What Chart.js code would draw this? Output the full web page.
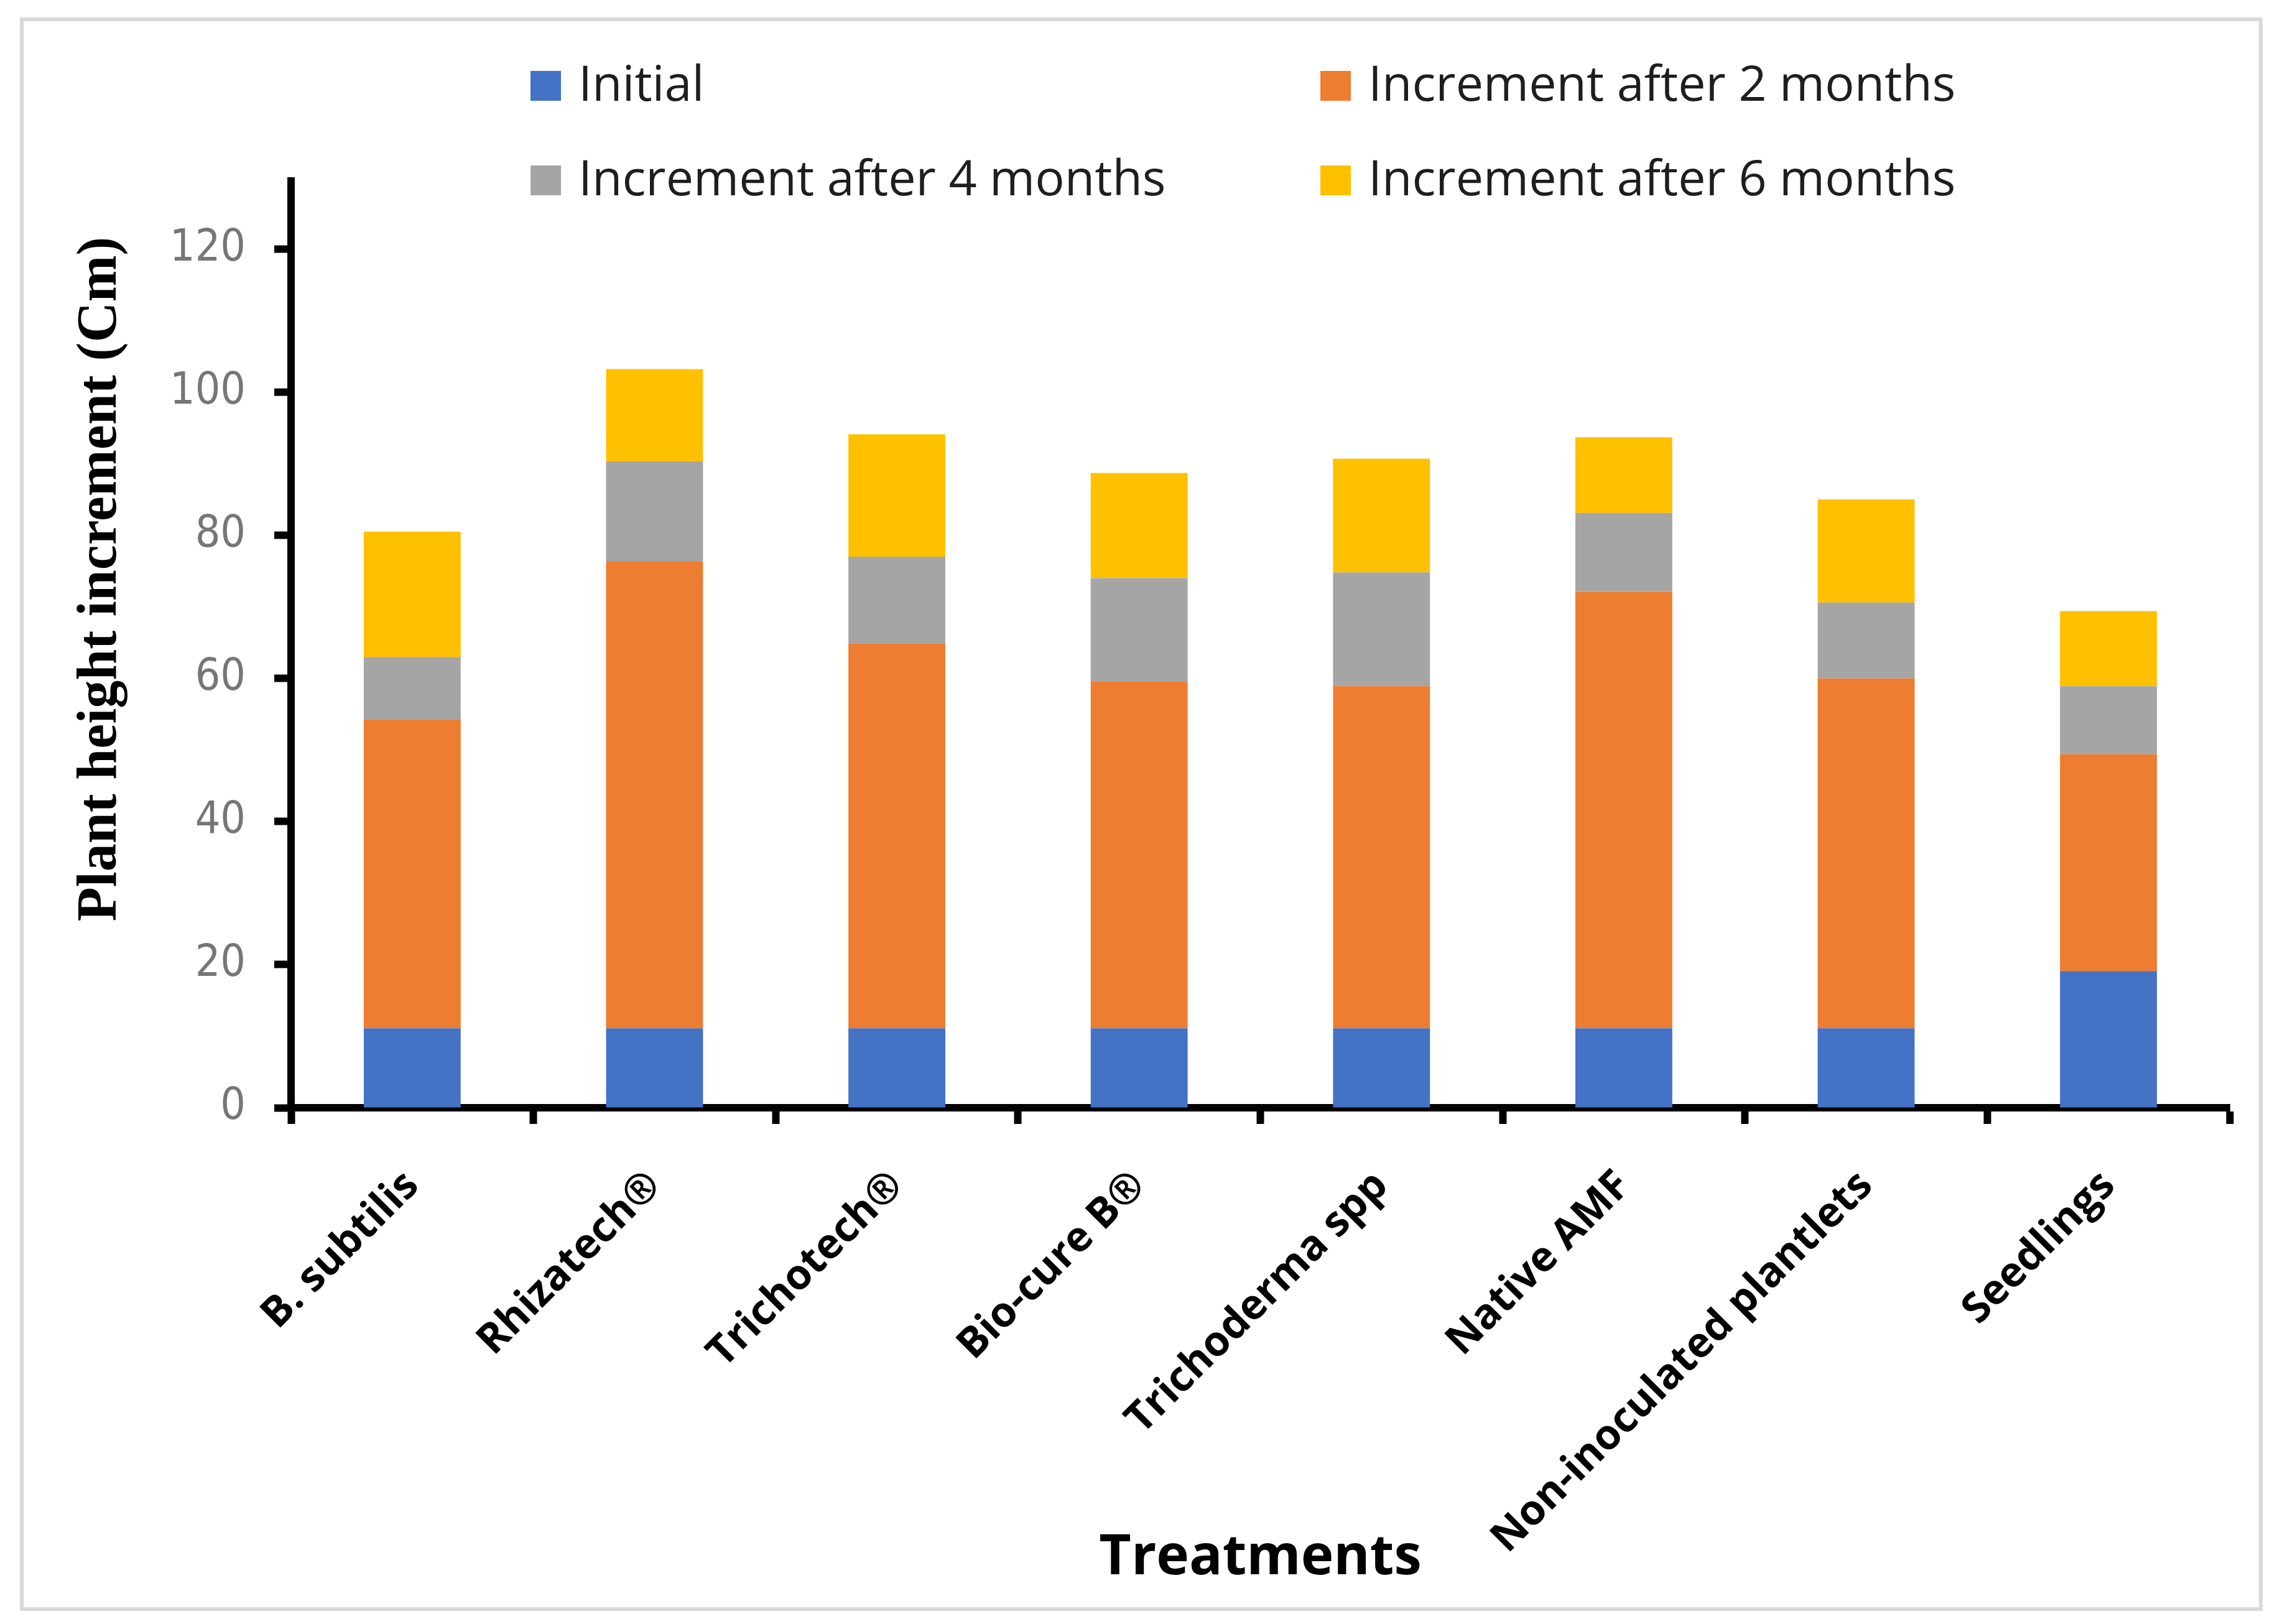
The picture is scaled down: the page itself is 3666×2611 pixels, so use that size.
<!DOCTYPE html>
<html><head><meta charset="utf-8">
<script src="https://cdn.jsdelivr.net/npm/chart.js@4.4.1/dist/chart.umd.min.js"></script>
<style>html,body{margin:0;padding:0;background:#fff;} #wrap{width:3666px;height:2611px;position:relative;}</style>
</head><body><div id="wrap"><canvas id="c" width="3666" height="2611"></canvas></div>
<script>
const categories = ['B. subtilis','Rhizatech®','Trichotech®','Bio-cure B®','Trichoderma spp','Native AMF','Non-inoculated plantlets','Seedlings'];
const initialVals = [11.1, 11.1, 11.1, 11.1, 11.1, 11.1, 11.1, 19.1];
const inc2Vals    = [43.2, 65.2, 53.8, 48.5, 47.8, 61.0, 48.9, 30.3];
const inc4Vals    = [8.7, 14.0, 12.1, 14.4, 15.9, 11.0, 10.6, 9.5];
const inc6Vals    = [17.5, 12.9, 17.1, 14.7, 15.9, 10.6, 14.4, 10.5];
const seriesNames = ['Initial','Increment after 2 months','Increment after 4 months','Increment after 6 months'];
const seriesColors = ['#4472C4','#ED7D31','#A5A5A5','#FFC000'];
const yTickValues = [0, 20, 40, 60, 80, 100, 120];
const yTitle = 'Plant height increment (Cm)';
const xTitle = 'Treatments';

const seriesData = [initialVals, inc2Vals, inc4Vals, inc6Vals];

const decor = {
  id: 'decor',
  beforeDraw(chart) {
    const ctx = chart.ctx;
    ctx.save();
    ctx.fillStyle = '#ffffff';
    ctx.fillRect(0, 0, chart.width, chart.height);
    ctx.strokeStyle = '#d9d9d9';
    ctx.lineWidth = 6;
    ctx.strokeRect(35, 31, 3600, 2556);
    ctx.restore();
  },
  afterDraw(chart) {
    const ctx = chart.ctx;
    ctx.save();
    // y axis title
    ctx.translate(186, 931);
    ctx.rotate(-Math.PI / 2);
    ctx.font = 'bold 90px "Liberation Serif", "Times New Roman", serif';
    ctx.fillStyle = '#000';
    ctx.textAlign = 'center';
    ctx.textBaseline = 'alphabetic';
    ctx.fillText(yTitle, 0, 0);
    ctx.restore();

    // legend (2 x 2 grid)
    ctx.save();
    const colX = [853, 2123];
    const rowBase = [162, 314];
    ctx.font = '79px "Open Sans", "Noto Sans", sans-serif';
    ctx.textAlign = 'left';
    ctx.textBaseline = 'alphabetic';
    chart.data.datasets.forEach((ds, i) => {
      const cx = colX[i % 2];
      const by = rowBase[Math.floor(i / 2)];
      ctx.fillStyle = ds.backgroundColor;
      ctx.fillRect(cx, by - 48, 49, 48);
      ctx.fillStyle = '#1e1e1e';
      ctx.fillText(ds.label, cx + 77, by);
    });
    ctx.restore();
  }
};

const datasets = seriesNames.map((name, i) => ({
  label: name,
  data: seriesData[i],
  backgroundColor: seriesColors[i],
  borderWidth: 0,
  categoryPercentage: 1.0,
  barPercentage: 0.4
}));

new Chart(document.getElementById('c').getContext('2d'), {
  type: 'bar',
  data: { labels: categories, datasets },
  options: {
    responsive: false,
    devicePixelRatio: 1,
    animation: false,
    layout: { padding: { left: 0, right: 81, top: 291, bottom: 0 } },
    plugins: { legend: { display: false }, tooltip: { enabled: false } },
    scales: {
      x: {
        stacked: true,
        z: 1,
        grid: { display: true, drawOnChartArea: false, drawTicks: true, tickLength: 26, tickWidth: 12, tickColor: '#000', offset: true },
        border: { display: true, color: '#000', width: 12 },
        ticks: {
          autoSkip: false, minRotation: 45, maxRotation: 45, padding: 60, color: '#000',
          font: { family: '"Open Sans", "Noto Sans", sans-serif', size: 67, weight: 'bold' }
        },
        title: {
          display: true, text: xTitle, color: '#000',
          font: { family: '"Open Sans", "Noto Sans", sans-serif', size: 89, weight: 'bold' },
          padding: { top: 0, bottom: 52 }
        },
        afterFit(s) { s.height = 830; }
      },
      y: {
        stacked: true,
        min: 0,
        max: 129.5,
        z: 1,
        afterBuildTicks(s) { s.ticks = yTickValues.map(v => ({ value: v })); },
        grid: { display: true, drawOnChartArea: false, drawTicks: true, tickLength: 27, tickWidth: 12, tickColor: '#000' },
        border: { display: true, color: '#000', width: 12 },
        ticks: {
          padding: 46, color: '#767676',
          font: { family: '"DejaVu Sans Condensed", "Noto Sans", sans-serif', size: 71 }
        },
        afterFit(s) { s.width = 468; }
      }
    }
  },
  plugins: [decor]
});
</script>
</body></html>
